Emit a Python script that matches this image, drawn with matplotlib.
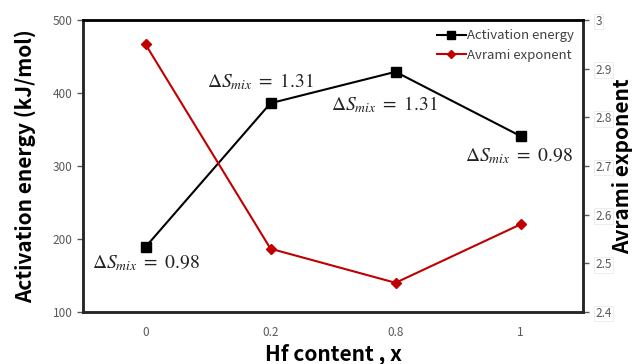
import matplotlib
matplotlib.use("Agg")
import matplotlib.pyplot as plt

plt.rcParams['font.family'] = ['Noto Sans CJK JP', 'DejaVu Sans']
plt.rcParams['mathtext.fontset'] = 'stix'

# Hf content and the two measured quantities
hf_content = ['0', '0.2', '0.8', '1']
activation_energy = [189, 386, 429, 341]   # kJ/mol
avrami_exponent = [2.95, 2.53, 2.46, 2.58]
entropy_labels = ['0.98', '1.31', '1.31', '0.98']

fig = plt.figure(figsize=(6.4, 3.64), dpi=100)
ax = fig.add_axes([0.1297, 0.1429, 0.7813, 0.8022])
ax2 = ax.twinx()

x = list(range(len(hf_content)))
l1, = ax.plot(x, activation_energy, color='black', lw=1.5, marker='s', ms=7,
              label='Activation energy')
l2, = ax2.plot(x, avrami_exponent, color='#c00000', lw=1.5, marker='D', ms=5,
               label='Avrami exponent')

ax.set_xlim(-0.5, 3.5)
ax.set_ylim(100, 500)
ax.set_yticks([100, 200, 300, 400, 500])
ax2.set_ylim(2.4, 3.0)
ax2.set_yticks([2.4, 2.5, 2.6, 2.7, 2.8, 2.9, 3.0])
ax2.set_yticklabels(['2.4', '2.5', '2.6', '2.7', '2.8', '2.9', '3'])
ax.set_xticks(x)
ax.set_xticklabels(hf_content)

ax.tick_params(axis='y', colors='#595959', labelsize=8.5, length=4, width=1, direction='out')
ax.tick_params(axis='x', colors='#595959', labelsize=8.5, length=0, pad=10)
ax2.tick_params(axis='y', colors='#595959', labelsize=8.5, length=4, width=1, direction='out', pad=5)
for t in ax2.get_yticklabels():
    t.set_bbox(dict(facecolor='white', edgecolor='#e6e6e6', lw=0.5, pad=1))

for a in (ax, ax2):
    for s in a.spines.values():
        s.set_linewidth(1.8)
        s.set_color('#262626')
ax2.spines['top'].set_color('black')

ax.set_xlabel('Hf content , x', fontsize=15, fontweight='bold', labelpad=3)
ax.set_ylabel('Activation energy (kJ/mol)', fontsize=15, fontweight='bold', labelpad=12)
ax2.set_ylabel('Avrami exponent', fontsize=15, fontweight='bold', labelpad=0)

# entropy of mixing next to each activation energy point
offsets = [(0, -16), (-10, 21), (-11, -33), (-2, -20)]
for xi, yi, lab, off in zip(x, activation_energy, entropy_labels, offsets):
    ax.annotate(r'$\Delta S_{mix}\ =\ ' + lab + '$', (xi, yi), xytext=off,
                textcoords='offset pixels', ha='center', va='center',
                fontsize=14, color='#222222')

ax2.legend(handles=[l1, l2], loc='upper right', frameon=False, fontsize=9.5,
           handlelength=2.2, handletextpad=0.1, borderaxespad=0.3, labelspacing=0.5,
           labelcolor='#404040', markerscale=0.75)

fig.savefig('out.png', dpi=100)
